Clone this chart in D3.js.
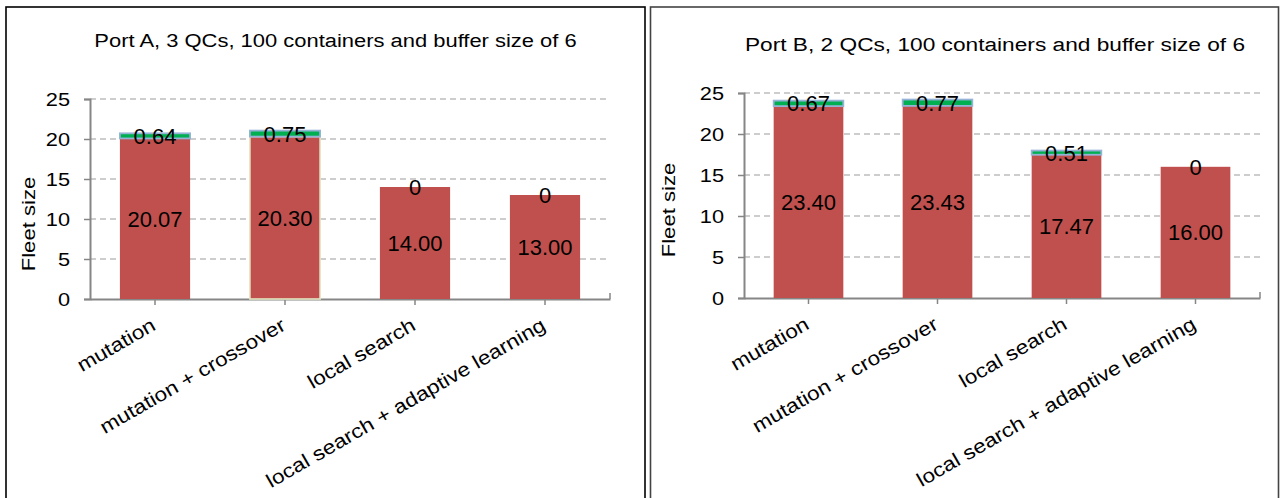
<!DOCTYPE html>
<html>
<head>
<meta charset="utf-8">
<script src="https://cdn.jsdelivr.net/npm/d3@7"></script>
<style>
  html, body { margin: 0; padding: 0; background: #fff; }
  svg { display: block; font-family: "Liberation Sans", Arial, sans-serif; }
</style>
</head>
<body>
<svg id="chart" width="1281" height="498"></svg>
<script>
// Operator variants compared in both ports
const categories = ["mutation", "mutation + crossover", "local search", "local search + adaptive learning"];

// Port A: mean fleet size and the extra (spread) segment stacked on top
const portATitle = "Port A, 3 QCs, 100 containers and buffer size of 6";
const portABase = [20.07, 20.30, 14.00, 13.00];
const portATop = [0.64, 0.75, 0, 0];

// Port B
const portBTitle = "Port B, 2 QCs, 100 containers and buffer size of 6";
const portBBase = [23.40, 23.43, 17.47, 16.00];
const portBTop = [0.67, 0.77, 0.51, 0];

const yTicks = [0, 5, 10, 15, 20, 25];
const yTitle = "Fleet size";

// the text face is a slightly widened sans
const WIDE = 1.17;

const svg = d3.select("#chart");

function drawPanel(cfg) {
  const g = svg.append("g");

  // frame
  g.append("rect")
    .attr("x", cfg.frame.x).attr("y", cfg.frame.y)
    .attr("width", cfg.frame.w).attr("height", cfg.frame.h)
    .attr("fill", "none").attr("stroke", cfg.frameColor).attr("stroke-width", 1.6);

  const x = d3.scaleBand().domain(categories)
    .range([cfg.plot.left, cfg.plot.right]).paddingInner(0.46).paddingOuter(0.23);
  const y = d3.scaleLinear().domain([0, 25]).range([cfg.plot.bottom, cfg.plot.top]);

  // dashed gridlines
  g.append("g").selectAll("line").data(yTicks.filter(t => t > 0)).join("line")
    .attr("x1", cfg.plot.left).attr("x2", cfg.plot.right)
    .attr("y1", d => y(d)).attr("y2", d => y(d))
    .attr("stroke", "#bdbdbd").attr("stroke-width", 1.3)
    .attr("stroke-dasharray", "6,4");

  // y axis (line + tick marks from d3, labels drawn separately)
  const yAxis = g.append("g")
    .attr("transform", `translate(${cfg.plot.left},0)`)
    .call(d3.axisLeft(y).tickValues(yTicks).tickSize(6).tickFormat(""));
  yAxis.select(".domain").attr("stroke", "#868686").attr("stroke-width", 2);
  yAxis.selectAll(".tick line").attr("stroke", "#868686").attr("stroke-width", 1.5);

  g.append("g").selectAll("text").data(yTicks).join("text")
    .attr("transform", d => `translate(${cfg.plot.left - 20},${y(d)}) scale(${WIDE},1)`)
    .attr("text-anchor", "end").attr("dy", "0.36em")
    .attr("font-size", 18.6)
    .text(d => d3.format("d")(d));

  // x axis
  const xAxis = g.append("g")
    .attr("transform", `translate(0,${cfg.plot.bottom})`)
    .call(d3.axisBottom(x).tickSize(6).tickSizeOuter(0).tickFormat(""));
  xAxis.select(".domain").attr("stroke", "#868686").attr("stroke-width", 2);
  xAxis.selectAll(".tick line").attr("stroke", "#868686").attr("stroke-width", 1.5);
  // end cap of the category axis
  g.append("line")
    .attr("x1", cfg.plot.right).attr("x2", cfg.plot.right)
    .attr("y1", cfg.plot.bottom - 6).attr("y2", cfg.plot.bottom)
    .attr("stroke", "#868686").attr("stroke-width", 1.5);

  // rotated category labels
  g.append("g").selectAll("text").data(categories).join("text")
    .attr("transform", d => `translate(${x(d) + x.bandwidth() / 2 + 2},${cfg.plot.bottom + 30}) rotate(-30) scale(1.16,1)`)
    .attr("text-anchor", "end")
    .attr("font-size", 19.5)
    .text(d => d);

  // base segments
  g.append("g").selectAll("rect").data(cfg.base).join("rect")
    .attr("x", (d, i) => x(categories[i]))
    .attr("width", x.bandwidth())
    .attr("y", d => y(d))
    .attr("height", d => y(0) - y(d))
    .attr("fill", "#c0504d")
    .attr("stroke", (d, i) => cfg.baseStroke[i])
    .attr("stroke-width", 1.6);

  // top segments (zero-height ones are not drawn)
  const tops = cfg.top.map((v, i) => ({ v, i })).filter(d => d.v > 0);
  g.append("g").selectAll("rect").data(tops).join("rect")
    .attr("x", d => x(categories[d.i]))
    .attr("width", x.bandwidth())
    .attr("y", d => y(cfg.base[d.i] + d.v))
    .attr("height", d => y(0) - y(d.v))
    .attr("fill", "#00b050")
    .attr("stroke", "#95b3d7")
    .attr("stroke-width", 1.8);

  // labels for base segments
  g.append("g").selectAll("text").data(cfg.base).join("text")
    .attr("x", (d, i) => x(categories[i]) + x.bandwidth() / 2)
    .attr("y", d => y(d / 2))
    .attr("dy", "0.36em")
    .attr("text-anchor", "middle")
    .attr("font-size", 22)
    .text(d => d.toFixed(2));

  // labels for top segments
  g.append("g").selectAll("text").data(cfg.top).join("text")
    .attr("x", (d, i) => x(categories[i]) + x.bandwidth() / 2)
    .attr("y", (d, i) => y(cfg.base[i] + d / 2))
    .attr("dy", "0.36em")
    .attr("text-anchor", "middle")
    .attr("font-size", 22)
    .text(d => d === 0 ? "0" : d.toFixed(2));

  // title
  g.append("text")
    .attr("transform", `translate(${cfg.titlePos[0]},${cfg.titlePos[1]}) scale(${cfg.titleWide},1)`)
    .attr("text-anchor", "middle").attr("font-size", 18.6)
    .text(cfg.title);

  // y axis title
  g.append("text")
    .attr("transform", `translate(${cfg.yTitlePos[0]},${cfg.yTitlePos[1]}) rotate(-90) scale(1.19,1)`)
    .attr("text-anchor", "middle").attr("dy", "0.36em")
    .attr("font-size", 18.6)
    .text(yTitle);
}

drawPanel({
  title: portATitle,
  base: portABase,
  top: portATop,
  baseStroke: ["none", "#e4e6c4", "none", "none"],
  frame: { x: 6, y: 7, w: 639, h: 500 },
  frameColor: "#000",
  plot: { left: 90, right: 610, top: 99, bottom: 299 },
  titlePos: [335.5, 47],
  titleWide: 1.18,
  yTitlePos: [28, 224]
});

drawPanel({
  title: portBTitle,
  base: portBBase,
  top: portBTop,
  baseStroke: ["none", "none", "none", "none"],
  frame: { x: 650.5, y: 7, w: 628, h: 500 },
  frameColor: "#444",
  plot: { left: 744, right: 1260, top: 93, bottom: 298 },
  titlePos: [995, 51],
  titleWide: 1.22,
  yTitlePos: [668, 210]
});
</script>
</body>
</html>
